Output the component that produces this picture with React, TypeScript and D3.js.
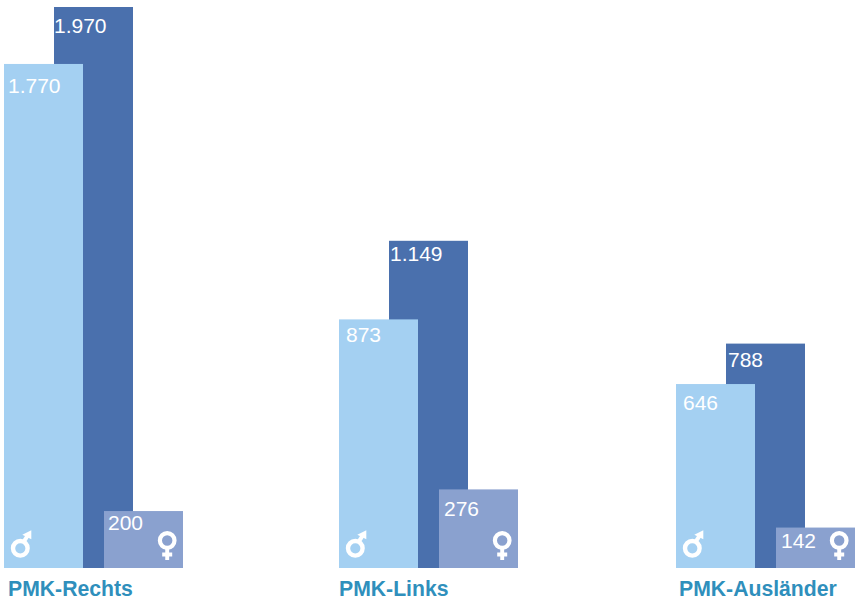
import React from "react";
import * as d3 from "d3";

const categories = ["PMK-Rechts", "PMK-Links", "PMK-Ausländer"];
const maleValues = [1770, 873, 646];
const totalValues = [1970, 1149, 788];
const femaleValues = [200, 276, 142];
const maleLabels = ["1.770", "873", "646"];
const totalLabels = ["1.970", "1.149", "788"];
const femaleLabels = ["200", "276", "142"];

const W = 856, H = 600, BASE = 568, BW = 79;
const y = d3.scaleLinear().domain([0, 1970]).range([BASE, 7]);
const x = d3.scaleOrdinal<string, number>().domain(categories).range([4, 339, 676]);
const font = "'Liberation Sans', Arial, sans-serif";
const C = { light: "#a4d0f2", dark: "#4a70ad", fem: "#8aa1cf", title: "#2f8fbc" };
const maleDy = [29, 23, 26];
const totalDy = [26, 20, 23];
const femaleDy = [19, 27, 20];
const maleDx = [4, 7, 7];
const totalDx = [50, 51, 52];
const femaleDx = [104, 105, 105];
const titleDx = [4, 0, 3];

const Male = ({ cx, cy }: { cx: number; cy: number }) => (
  <g>
    <circle cx={cx} cy={cy} r={7.3} fill="none" stroke="#fff" strokeWidth={4.4} />
    <path d={`M${cx + 3} ${cy - 6} L${cx + 7.5} ${cy - 13}`} stroke="#fff" strokeWidth={4} fill="none" />
    <path d={`M${cx + 2} ${cy - 13.5} L${cx + 11} ${cy - 18} L${cx + 11} ${cy - 9} Z`} fill="#fff" />
  </g>
);

const Female = ({ cx, cy }: { cx: number; cy: number }) => (
  <g>
    <circle cx={cx} cy={cy} r={7.3} fill="none" stroke="#fff" strokeWidth={4.2} />
    <path d={`M${cx} ${cy + 8} V${cy + 19.5} M${cx - 5} ${cy + 14} H${cx + 5}`} stroke="#fff" strokeWidth={3.9} fill="none" />
  </g>
);

export default function App() {
  return (
    <svg width={W} height={H} viewBox={`0 0 ${W} ${H}`} style={{ position: "absolute", left: 0, top: 0, background: "#fff" }}>
      {categories.map((c, i) => {
        const x0 = x(c);
        const labelStyle = { fontFamily: font, fontSize: 21, fill: "#fff" };
        return (
          <g key={c}>
            <rect x={x0 + 50} y={y(totalValues[i])} width={BW} height={BASE - y(totalValues[i])} fill={C.dark} />
            <rect x={x0} y={y(maleValues[i])} width={BW} height={BASE - y(maleValues[i])} fill={C.light} />
            <rect x={x0 + 100} y={y(femaleValues[i])} width={BW} height={BASE - y(femaleValues[i])} fill={C.fem} />
            <text x={x0 + maleDx[i]} y={y(maleValues[i]) + maleDy[i]} {...labelStyle}>{maleLabels[i]}</text>
            <text x={x0 + totalDx[i]} y={y(totalValues[i]) + totalDy[i]} {...labelStyle}>{totalLabels[i]}</text>
            <text x={x0 + femaleDx[i]} y={y(femaleValues[i]) + femaleDy[i]} {...labelStyle}>{femaleLabels[i]}</text>
            <Male cx={x0 + 16.3} cy={BASE - 19.7} />
            <Female cx={x0 + 163.2} cy={BASE - 27.5} />
            <text x={x0 + titleDx[i]} y={596} fontFamily={font} fontSize={21.2} fontWeight="bold" fill={C.title}>{c}</text>
          </g>
        );
      })}
    </svg>
  );
}
